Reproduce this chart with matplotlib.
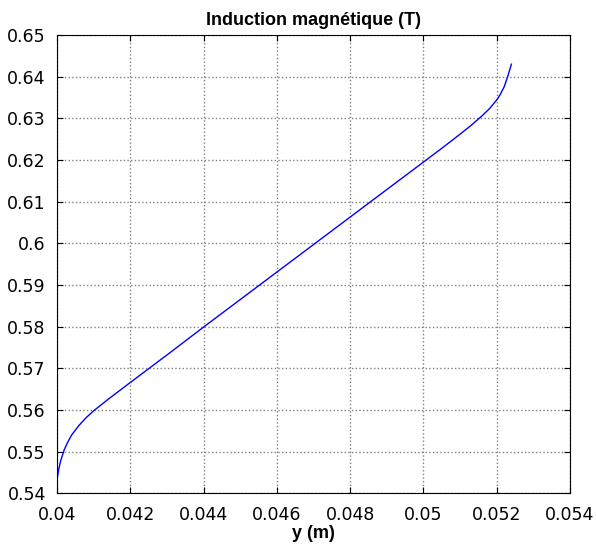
import matplotlib
matplotlib.use("Agg")
import matplotlib.pyplot as plt

# values
y_pos = [0.04, 0.04005, 0.0401, 0.0402, 0.0403, 0.0404, 0.0406, 0.0408,
         0.041, 0.0412, 0.0414, 0.0417, 0.042, 0.0425, 0.043, 0.044, 0.045,
         0.046, 0.047, 0.048, 0.049, 0.050, 0.0505, 0.051, 0.0513, 0.0516,
         0.0518, 0.0520, 0.0521, 0.0522, 0.05228, 0.05234, 0.0524]
b_field = [0.5433, 0.5458, 0.5478, 0.5505, 0.5524, 0.5540, 0.5563, 0.5582,
           0.5598, 0.5612, 0.5626, 0.5646, 0.5666, 0.5699, 0.5732, 0.5799,
           0.5865, 0.5931, 0.5997, 0.6063, 0.6129, 0.6195, 0.6228, 0.6262,
           0.6283, 0.6306, 0.6323, 0.6344, 0.6358, 0.6375, 0.6395, 0.6412,
           0.6430]

x_ticks = [0.04, 0.042, 0.044, 0.046, 0.048, 0.05, 0.052, 0.054]
x_labels = ["0.04", "0.042", "0.044", "0.046", "0.048", "0.05", "0.052", "0.054"]
y_ticks = [0.54, 0.55, 0.56, 0.57, 0.58, 0.59, 0.6, 0.61, 0.62, 0.63, 0.64, 0.65]
y_labels = ["0.54", "0.55", "0.56", "0.57", "0.58", "0.59", "0.6", "0.61",
            "0.62", "0.63", "0.64", "0.65"]

fig = plt.figure(figsize=(5.96, 5.45), dpi=100)
ax = fig.add_axes([0.0956, 0.0948, 0.8608, 0.841])

ax.plot(y_pos, b_field, color="blue", linewidth=1.0)

ax.set_xlim(0.04, 0.054)
ax.set_ylim(0.54, 0.65)
ax.set_xticks(x_ticks)
ax.set_xticklabels(x_labels)
ax.set_yticks(y_ticks)
ax.set_yticklabels(y_labels)
ax.tick_params(direction="in", top=True, right=True, labelsize=12.5, length=4)
ax.tick_params(axis="x", pad=9)
ax.tick_params(axis="y", pad=8)
ax.grid(True, linestyle=":", color="#808080", linewidth=1.0)

ax.set_title("Induction magnétique (T)", fontfamily="Liberation Sans",
             fontweight="bold", fontsize=13, pad=7)
ax.set_xlabel("y (m)", fontfamily="Liberation Sans", fontweight="bold",
              fontsize=13, labelpad=1)

fig.savefig("out.png", dpi=100)
